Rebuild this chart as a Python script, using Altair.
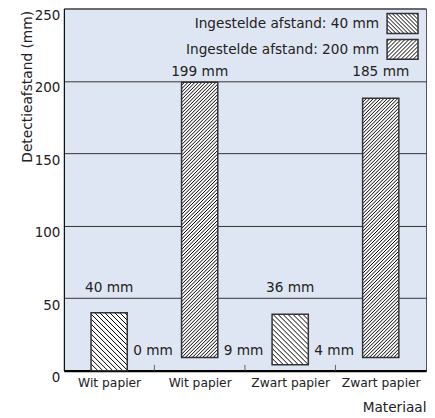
import altair as alt
import pandas as pd
import math

# ---------------- data ----------------
categories = ["Wit papier", "Wit papier", "Zwart papier", "Zwart papier"]
series = ["40", "200", "40", "200"]
bar_low = [0, 9, 4, 9]
bar_high = [40, 199, 39, 188]
top_labels = ["40 mm", "199 mm", "36 mm", "185 mm"]
bottom_labels = ["0 mm", "9 mm", "4 mm", ""]
legend_labels = ["Ingestelde afstand: 40 mm", "Ingestelde afstand: 200 mm"]
y_ticks = [0, 50, 100, 150, 200, 250]

# ---------------- geometry ----------------
W = 363
H = 363
XDOM = len(categories)
YDOM = 250
XPX = W / XDOM
YPX = H / YDOM
HALF = 0.2
FONT = "DejaVu Sans"
BG = "#dfe6f3"


def hatch(x0, x1, y0, y1, step, kind):
    """pixel rect (y up) -> list of segments in data units"""
    segs = []
    if kind == "/":
        c = math.ceil(y0 - x1) + 1
        while c < y1 - x0:
            xa = max(x0, y0 - c)
            xb = min(x1, y1 - c)
            if xb > xa:
                segs.append((xa / XPX, (xa + c) / YPX, xb / XPX, (xb + c) / YPX))
            c += step
    else:
        c = math.ceil(x0 + y0) + 1
        while c < x1 + y1:
            xa = max(x0, c - y1)
            xb = min(x1, c - y0)
            if xb > xa:
                segs.append((xa / XPX, (c - xa) / YPX, xb / XPX, (c - xb) / YPX))
            c += step
    return segs


STEP = {"40": 5, "200": 3.5}
KIND = {"40": "\\", "200": "/"}

bars = pd.DataFrame({
    "cat": categories,
    "ser": series,
    "x": [i + 0.5 - HALF for i in range(XDOM)],
    "x2": [i + 0.5 + HALF for i in range(XDOM)],
    "y": bar_low,
    "y2": bar_high,
})

rows = []
for i in range(XDOM):
    x0 = float(bars["x"][i]) * XPX
    x1 = float(bars["x2"][i]) * XPX
    y0 = float(bars["y"][i]) * YPX
    y1 = float(bars["y2"][i]) * YPX
    s = series[i]
    rows += hatch(x0, x1, y0, y1, STEP[s], KIND[s])

# legend (pixel positions from plot top-left, y down)
leg_boxes = []
leg_text = []
for k, (s, lab) in enumerate(zip(["40", "200"], legend_labels)):
    top = 5 + k * 26
    bx0, bx1, by0, by1 = 324, 355, top, top + 20
    leg_boxes.append({"x": bx0 / XPX, "x2": bx1 / XPX,
                      "y": (H - by1) / YPX, "y2": (H - by0) / YPX})
    rows += hatch(bx0, bx1, H - by1, H - by0, 4.0, KIND[s])
    leg_text.append({"x": 316 / XPX, "y": (H - (by0 + 10.5)) / YPX, "t": lab})

hatch_df = pd.DataFrame(rows, columns=["x", "y", "x2", "y2"])
leg_df = pd.DataFrame(leg_boxes)
leg_text_df = pd.DataFrame(leg_text)

top_df = pd.DataFrame({
    "x": [i + 0.5 for i in range(XDOM)],
    "y": [57 if s == "40" else 206 for s in series],
    "t": top_labels,
})
bot_df = pd.DataFrame({
    "x": [i + 0.5 + HALF for i in range(XDOM)],
    "y": [13.8] * XDOM,
    "t": bottom_labels,
})
tick_df = pd.DataFrame({"x": list(range(1, XDOM)), "y": [0] * (XDOM - 1),
                        "y2": [4] * (XDOM - 1)})

# ---------------- scales / axes ----------------
label_arr = "[" + ",".join("'" + c + "'" for c in categories) + "]"
xscale = alt.Scale(domain=[0, XDOM], nice=False, zero=False)
yscale = alt.Scale(domain=[0, YDOM], nice=False)
xaxis = alt.Axis(
    values=[i + 0.5 for i in range(XDOM)],
    labelExpr=label_arr + "[floor(datum.value)]",
    ticks=False, grid=False, domainColor="#000", domainWidth=2.5,
    labelFont=FONT, labelFontSize=12.3, labelColor="#222", labelPadding=6,
    title="Materiaal", titleFont=FONT, titleFontSize=13.7, titleFontWeight="normal",
    titleColor="#222", titleAlign="right", titleAnchor="end", titleX=W, titleY=41,
    titleBaseline="alphabetic",
)
yaxis = alt.Axis(
    values=y_ticks, ticks=False, grid=True, gridColor="#333", gridWidth=1,
    domainColor="#000", domainWidth=1,
    labelFont=FONT, labelFontSize=13.5, labelColor="#222", labelBaseline="top",
    labelPadding=4,
    title="Detectieafstand (mm)", titleFont=FONT, titleFontSize=13.8,
    titleFontWeight="normal", titleColor="#222", titleAngle=270,
    titleAlign="right", titleX=-32, titleY=2, titleBaseline="alphabetic",
)


def X(f="x"):
    return alt.X(f, type="quantitative", scale=xscale, axis=xaxis)


def Y(f="y"):
    return alt.Y(f, type="quantitative", scale=yscale, axis=yaxis)


bar_fill = alt.Chart(bars).mark_rect(fill="white", stroke=None).encode(
    x=X(), x2="x2", y=Y(), y2="y2")
leg_fill = alt.Chart(leg_df).mark_rect(fill="white").encode(
    x=X(), x2="x2", y=Y(), y2="y2")
hatch_l = alt.Chart(hatch_df).mark_rule(color="#000", strokeWidth=1).encode(
    x=X(), x2="x2", y=Y(), y2="y2")
bar_edge = alt.Chart(bars).mark_rect(fill=None, stroke="#333", strokeWidth=1.5).encode(
    x=X(), x2="x2", y=Y(), y2="y2")
leg_edge = alt.Chart(leg_df).mark_rect(fill=None, stroke="#333", strokeWidth=1.5).encode(
    x=X(), x2="x2", y=Y(), y2="y2")
ticks = alt.Chart(tick_df).mark_rule(color="#666", strokeWidth=1).encode(
    x=X(), y=Y(), y2="y2")
top_t = alt.Chart(top_df).mark_text(font=FONT, fontSize=13.7, color="#222",
                                     align="center", baseline="middle").encode(
    x=X(), y=Y(), text="t:N")
bot_t = alt.Chart(bot_df).mark_text(font=FONT, fontSize=13.7, color="#222",
                                     align="left", baseline="middle", dx=6).encode(
    x=X(), y=Y(), text="t:N")
leg_t = alt.Chart(leg_text_df).mark_text(font=FONT, fontSize=13.7, color="#222",
                                          align="right", baseline="middle").encode(
    x=X(), y=Y(), text="t:N")

chart = alt.layer(
    bar_fill, leg_fill, hatch_l, bar_edge, leg_edge, ticks, top_t, bot_t, leg_t
).properties(
    width=W, height=H,
    autosize=alt.AutoSizeParams(type="none"),
    padding={"left": 56, "top": 0, "right": 1, "bottom": 47},
).configure_view(
    fill=BG, stroke="#555", strokeWidth=1
)

chart.save("out.html", embed_options={"renderer": "svg", "actions": False})
